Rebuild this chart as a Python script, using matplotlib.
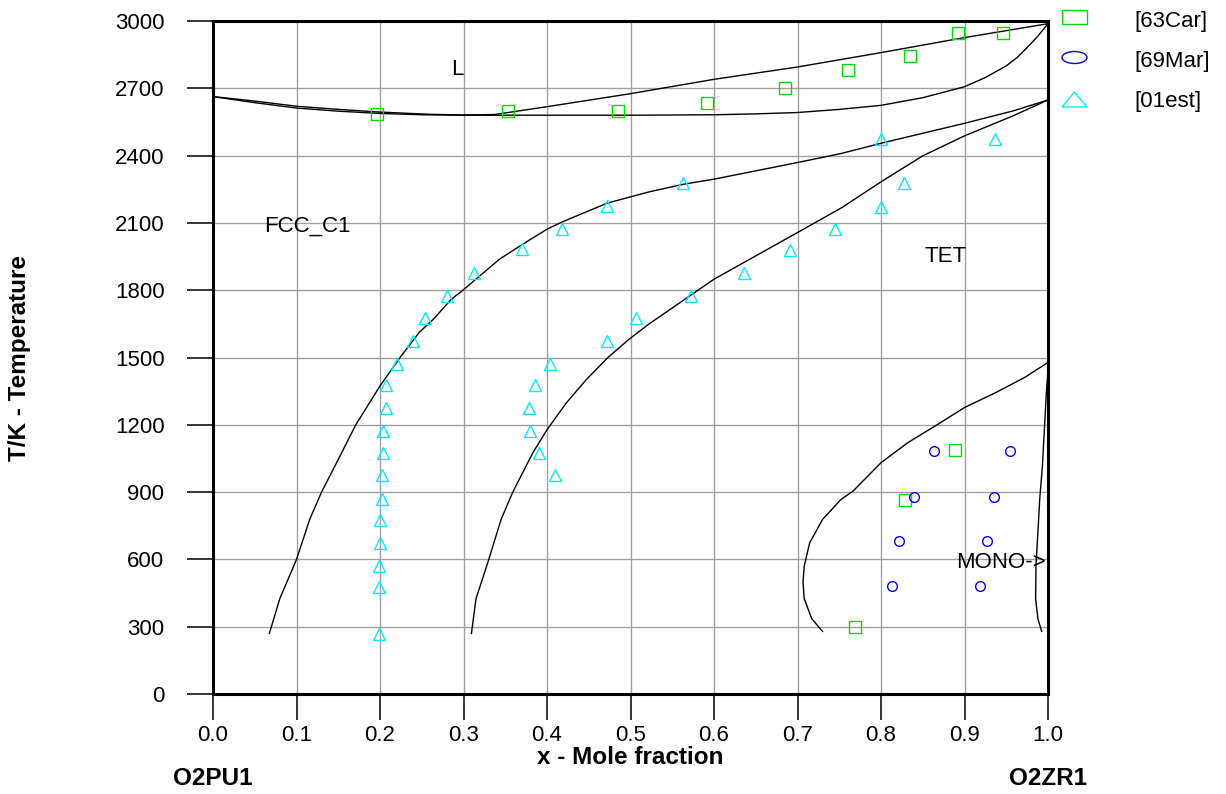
import matplotlib
matplotlib.use('Agg')
import matplotlib.pyplot as plt
import numpy as np
from matplotlib.lines import Line2D
from matplotlib.path import Path

plt.rcParams['font.family'] = ['Liberation Sans', 'DejaVu Sans']

# phase boundaries (x = mole fraction ZrO2, T in K)
liq_x = [0.0, 0.05, 0.1, 0.15, 0.2, 0.26, 0.3, 0.337, 0.4, 0.5, 0.6, 0.7, 0.8, 0.9, 1.0]
liq_T = [2663, 2643, 2620, 2606, 2594, 2584, 2581, 2583, 2618, 2676, 2740, 2795, 2859, 2926, 2988]

sol_x = [0.0, 0.05, 0.1, 0.15, 0.2, 0.25, 0.3, 0.4, 0.5, 0.6, 0.65, 0.7, 0.75, 0.8,
         0.85, 0.9, 0.925, 0.95, 0.963, 0.977, 0.988, 1.0]
sol_T = [2663, 2636, 2612, 2598, 2588, 2582, 2580, 2580, 2580, 2582, 2586, 2592, 2606, 2624,
         2658, 2707, 2748, 2800, 2837, 2889, 2933, 2988]

fcc_x = [0.0675, 0.08, 0.1, 0.116, 0.13, 0.152, 0.171, 0.2, 0.224, 0.247, 0.264, 0.2855,
         0.3, 0.343, 0.371, 0.4, 0.418, 0.472, 0.522, 0.563, 0.6, 0.7, 0.753, 0.8, 0.9,
         0.958, 1.0]
fcc_T = [270, 425, 600, 780, 900, 1060, 1200, 1373, 1500, 1612, 1671, 1760,
         1802, 1938, 2005, 2072, 2104, 2188, 2238, 2272, 2295, 2369, 2410, 2455, 2544,
         2599, 2648]

tet_x = [0.3095, 0.315, 0.3303, 0.345, 0.359, 0.383, 0.4, 0.423, 0.447, 0.473, 0.4985,
         0.522, 0.6, 0.7, 0.753, 0.8, 0.85, 0.9, 0.958, 1.0]
tet_T = [270, 425, 600, 778, 900, 1075, 1178, 1297, 1401, 1500, 1582,
         1649, 1849, 2057, 2168, 2283, 2399, 2488, 2577, 2648]

mono1_x = [0.730, 0.717, 0.708, 0.7066, 0.708, 0.7146, 0.730, 0.752, 0.7664, 0.8, 0.832,
           0.868, 0.9, 0.936, 0.972, 1.0]
mono1_T = [279, 336, 425, 499, 570, 674, 778, 867, 904, 1031, 1120,
           1202, 1277, 1341, 1411, 1478]

mono2_x = [0.9995, 0.9978, 0.9955, 0.9933, 0.9901, 0.9879, 0.9856, 0.9852, 0.9879, 0.9924]
mono2_T = [1420, 1329, 1166, 1017, 869, 720, 572, 423, 336, 279]

# experimental points
car_x = [0.196, 0.353, 0.485, 0.592, 0.685, 0.761, 0.835, 0.892, 0.946, 0.889, 0.829, 0.769]
car_T = [2585, 2597, 2597, 2633, 2700, 2782, 2846, 2948, 2948, 1086, 867, 298]

mar_x = [0.863, 0.954, 0.840, 0.935, 0.821, 0.927, 0.813, 0.919]
mar_T = [1083, 1083, 876, 876, 682, 682, 481, 481]

est_x = [0.1988, 0.199, 0.199, 0.2004, 0.2004, 0.202, 0.2024, 0.204, 0.204, 0.207, 0.207,
         0.22, 0.24, 0.2536, 0.280, 0.313, 0.37, 0.418, 0.472, 0.563, 0.8, 0.936, 0.827,
         0.8, 0.745, 0.691, 0.6356, 0.572, 0.507, 0.472, 0.404, 0.3855, 0.378, 0.38,
         0.39, 0.409]
est_T = [268, 477, 570, 675, 775, 870, 974, 1075, 1172, 1276, 1378,
         1470, 1575, 1676, 1775, 1876, 1983, 2072, 2176, 2277, 2476, 2476, 2277,
         2173, 2072, 1980, 1876, 1775, 1676, 1575, 1470, 1378, 1276, 1173,
         1075, 974]

leg_labels = ['[63Car]', '[69Mar]', '[01est]']
leg_colors = ['#00e000', '#0000ff', '#00eeff']

fig = plt.figure(figsize=(12.26, 7.94), dpi=100)
ax = fig.add_axes([213 / 1226, 1 - 694 / 794, 835 / 1226, 673 / 794])

for xs, ts in [(liq_x, liq_T), (sol_x, sol_T), (fcc_x, fcc_T), (tet_x, tet_T),
               (mono1_x, mono1_T), (mono2_x, mono2_T)]:
    ax.plot(xs, ts, color='black', lw=1.0, zorder=3)

ax.plot(car_x, car_T, ls='none', marker='s', ms=9, mfc='none', mec=leg_colors[0], mew=1.0, zorder=4)
ax.plot(mar_x, mar_T, ls='none', marker='o', ms=7, mfc='none', mec=leg_colors[1], mew=1.0, zorder=4)
ax.plot(est_x, est_T, ls='none', marker='^', ms=9, mfc='none', mec=leg_colors[2], mew=1.0, zorder=4)

ax.set_xlim(0, 1)
ax.set_ylim(0, 3000)
ax.set_xticks(np.arange(0, 1.01, 0.1))
ax.set_xticklabels([f'{v:.1f}' for v in np.arange(0, 1.01, 0.1)])
ax.set_yticks(np.arange(0, 3001, 300))
ax.grid(True, color='#a0a0a0', lw=1.0)
ax.set_axisbelow(True)
for s in ax.spines.values():
    s.set_linewidth(2.2)
ax.tick_params(axis='both', direction='out', length=19, width=1.1, labelsize=16)
ax.tick_params(axis='x', pad=3)
ax.tick_params(axis='y', pad=16)

# phase labels
ax.text(0.2928, 2759, 'L', fontsize=16, ha='center', va='baseline')
ax.text(0.1132, 2061, 'FCC_C1', fontsize=16, ha='center', va='baseline')
ax.text(0.8769, 1927, 'TET', fontsize=16, ha='center', va='baseline')
ax.text(0.9973, 560, 'MONO->', fontsize=16, ha='right', va='baseline')

ax.set_xlabel('x - Mole fraction', fontsize=17.5, fontweight='bold')
ax.xaxis.set_label_coords(0.5, -0.078)
fig.text(20 / 1226, 1 - 358 / 794, 'T/K - Temperature', rotation=90, fontsize=17.5,
         fontweight='bold', ha='center', va='center')
ax.text(0.0, -0.1263, 'O2PU1', transform=ax.transAxes, fontsize=17.5, fontweight='bold',
        ha='center', va='center')
ax.text(1.0, -0.1263, 'O2ZR1', transform=ax.transAxes, fontsize=17.5, fontweight='bold',
        ha='center', va='center')

# legend outside on the right
rect = Path([(-1, -0.56), (1, -0.56), (1, 0.56), (-1, 0.56), (-1, -0.56)])
th = np.linspace(0, 2 * np.pi, 60)
ell = Path(np.column_stack([np.cos(th), 0.48 * np.sin(th)]))
tri = Path([(-1, -0.6), (1, -0.6), (0, 0.6), (-1, -0.6)])
leg_markers = [rect, ell, tri]
mark_y = [17, 57, 99]
text_y = [22, 61, 102]
for lab, col, mk, my, tyy in zip(leg_labels, leg_colors, leg_markers, mark_y, text_y):
    fig.add_artist(Line2D([1073.5 / 1226], [1 - my / 794], transform=fig.transFigure,
                          marker=mk, ms=18, mfc='none', mec=col, mew=1.0, ls='none'))
    fig.text(1134 / 1226, 1 - tyy / 794, lab, fontsize=16, ha='left', va='center')

fig.savefig('out.png', dpi=100)
